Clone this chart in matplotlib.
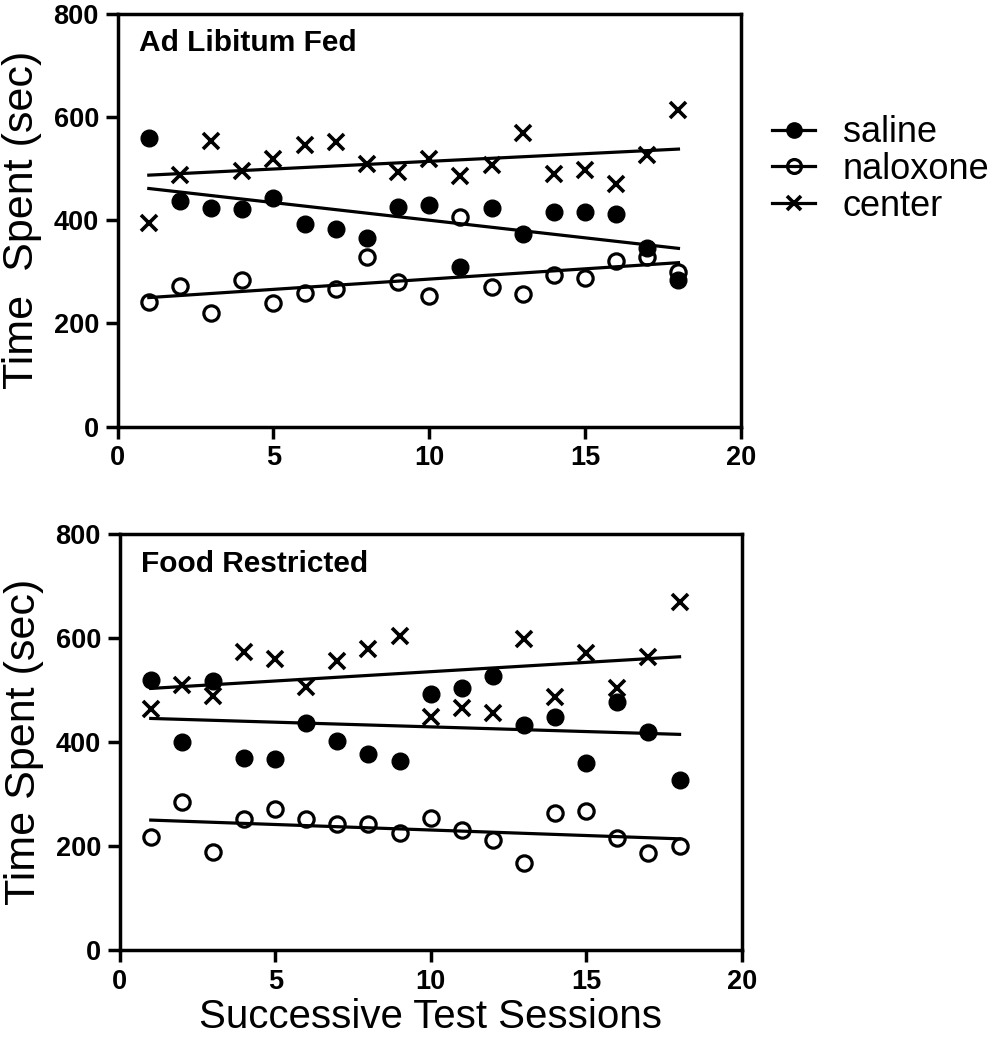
import numpy as np
import matplotlib
matplotlib.use("Agg")
import matplotlib.pyplot as plt
from matplotlib.lines import Line2D

plt.rcParams['font.family'] = ['Liberation Sans', 'DejaVu Sans']

sessions = np.arange(1, 19)

# Ad libitum fed (sec)
fed_saline = [559, 437, 424, 422, 443, 392, 383, 365, 426, 429,
              310, 423, 374, 415, 415, 411, 346, 285]
fed_naloxone = [242, 273, 221, 284, 239, 259, 266, 328, 280, 254,
                406, 270, 257, 294, 287, 321, 328, 300]
fed_center = [395, 487, 554, 495, 518, 545, 551, 508, 494, 518,
              485, 507, 569, 490, 497, 469, 526, 614]

# Food restricted (sec)
fr_saline = [520, 400, 518, 369, 367, 436, 403, 377, 364, 493,
             504, 527, 433, 449, 359, 478, 420, 328]
fr_naloxone = [217, 285, 189, 253, 271, 252, 242, 242, 226, 255,
               230, 212, 168, 263, 268, 215, 187, 201]
fr_center = [463, 510, 489, 574, 560, 507, 556, 579, 604, 449,
             466, 457, 599, 486, 572, 505, 563, 669]

labels = ["saline", "naloxone", "center"]
panel_titles = ["Ad Libitum Fed", "Food Restricted"]
ylabels = ["Time  Spent (sec)", "Time Spent (sec)"]

styles = {
    "saline": dict(marker='o', markersize=12, markerfacecolor='black',
                   markeredgecolor='black', markeredgewidth=1),
    "naloxone": dict(marker='o', markersize=11, markerfacecolor='none',
                     markeredgecolor='black', markeredgewidth=2.3),
    "center": dict(marker='x', markersize=11, markeredgecolor='black',
                   markeredgewidth=2.6),
}

fig = plt.figure(figsize=(9.97, 10.5), dpi=100)
ax1 = fig.add_axes([0.118, 0.5936, 0.625, 0.3935])
ax2 = fig.add_axes([0.120, 0.0952, 0.624, 0.396])

panels = [
    (ax1, {"naloxone": fed_naloxone, "saline": fed_saline, "center": fed_center}),
    (ax2, {"naloxone": fr_naloxone, "saline": fr_saline, "center": fr_center}),
]

for i, (ax, series) in enumerate(panels):
    for name, vals in series.items():
        ax.plot(sessions, vals, linestyle='none', color='black', **styles[name])
        # linear fit over sessions 1-18
        slope, icpt = np.polyfit(sessions, vals, 1)
        xs = np.array([sessions[0], sessions[-1]])
        ax.plot(xs, slope * xs + icpt, color='black', linewidth=2.3)

    ax.set_xlim(0, 20)
    ax.set_ylim(0, 800)
    ax.set_xticks([0, 5, 10, 15, 20])
    ax.set_yticks([0, 200, 400, 600, 800])
    for sp in ax.spines.values():
        sp.set_linewidth(2.5)
    ax.tick_params(direction='out', length=8.5, width=2.5, pad=5, labelsize=19.5)
    for lab in ax.get_xticklabels() + ax.get_yticklabels():
        lab.set_fontweight('bold')
    ax.set_ylabel(ylabels[i], fontsize=31, labelpad=8)
    ax.text(0.034, 0.962, panel_titles[i], transform=ax.transAxes,
            fontsize=21.5, fontweight='bold', va='top', ha='left')

ax2.set_xlabel("Successive Test Sessions", fontsize=29, labelpad=2)

handles = [Line2D([0], [0], color='black', linewidth=2.3, **styles[n]) for n in labels]
for h, ms in zip(handles, [11, 10, 10]):
    h.set_markersize(ms)
fig.legend(handles, labels, loc='upper left', bbox_to_anchor=(0.760, 0.904),
           frameon=False, fontsize=26, handlelength=1.2, handletextpad=0.75,
           labelspacing=0.05, borderaxespad=0)

fig.savefig("out.png", dpi=100)
